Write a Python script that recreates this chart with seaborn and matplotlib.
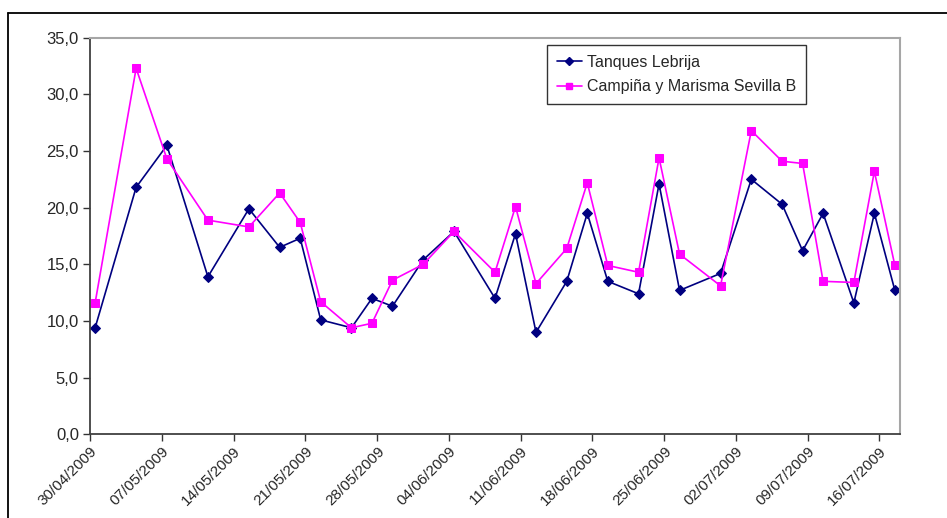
import pandas as pd
import matplotlib
matplotlib.use("Agg")
import matplotlib.pyplot as plt
import matplotlib.dates as mdates
from matplotlib.ticker import FuncFormatter, MultipleLocator
from matplotlib.lines import Line2D
import seaborn as sns

# Sampling dates (day/month/year)
dates = ["30/04/2009", "04/05/2009", "07/05/2009", "11/05/2009", "15/05/2009",
         "18/05/2009", "20/05/2009", "22/05/2009", "25/05/2009", "27/05/2009",
         "29/05/2009", "01/06/2009", "04/06/2009", "08/06/2009", "10/06/2009",
         "12/06/2009", "15/06/2009", "17/06/2009", "19/06/2009", "22/06/2009",
         "24/06/2009", "26/06/2009", "30/06/2009", "03/07/2009", "06/07/2009",
         "08/07/2009", "10/07/2009", "13/07/2009", "15/07/2009", "17/07/2009"]

tanques_lebrija = [9.4, 21.8, 25.5, 13.9, 19.9, 16.5, 17.3, 10.1, 9.4, 12.0,
                   11.3, 15.4, 17.9, 12.0, 17.7, 9.0, 13.5, 19.5, 13.5, 12.4,
                   22.1, 12.7, 14.2, 22.5, 20.3, 16.2, 19.5, 11.6, 19.5, 12.7]

campina_marisma = [11.6, 32.3, 24.3, 18.9, 18.3, 21.3, 18.7, 11.7, 9.4, 9.8,
                   13.6, 15.0, 17.9, 14.3, 20.1, 13.3, 16.4, 22.2, 14.9, 14.3,
                   24.4, 15.9, 13.1, 26.8, 24.1, 23.9, 13.5, 13.4, 23.2, 14.9]

series_names = ["Tanques Lebrija", "Campiña y Marisma Sevilla B"]
tick_dates = ["30/04/2009", "07/05/2009", "14/05/2009", "21/05/2009",
              "28/05/2009", "04/06/2009", "11/06/2009", "18/06/2009",
              "25/06/2009", "02/07/2009", "09/07/2009", "16/07/2009"]

sns.set_style("white")
plt.rcParams['font.family'] = ['Liberation Sans', 'DejaVu Sans']

# Excel-style date axis: each day occupies one slot, point sits in the middle
x = pd.to_datetime(dates, format="%d/%m/%Y") + pd.Timedelta(hours=12)
df = pd.DataFrame({"fecha": x, "lebrija": tanques_lebrija, "campina": campina_marisma})

fig = plt.figure(figsize=(9.47, 5.18), dpi=100)
ax = fig.add_axes([90 / 947, 1 - 434.3 / 518, 810 / 947, 396.6 / 518])

sns.lineplot(data=df, x="fecha", y="lebrija", ax=ax, color="#000080", marker="D",
             markersize=5.5, markeredgecolor="#000080", linewidth=1.2)
sns.lineplot(data=df, x="fecha", y="campina", ax=ax, color="#FF00FF", marker="s",
             markersize=5.5, markeredgecolor="#FF00FF", linewidth=1.2)

ax.set_ylim(0, 35)
ax.yaxis.set_major_locator(MultipleLocator(5))
ax.yaxis.set_major_formatter(FuncFormatter(lambda v, p: f"{v:.1f}".replace(".", ",")))

ticks = pd.to_datetime(tick_dates, format="%d/%m/%Y")
ax.set_xlim(pd.Timestamp("2009-04-30"), pd.Timestamp("2009-07-18"))
ax.set_xticks(ticks)
ax.xaxis.set_major_formatter(mdates.DateFormatter("%d/%m/%Y"))
plt.setp(ax.get_xticklabels(), rotation=45, ha="right", rotation_mode="anchor")

ax.set_xlabel("")
ax.set_ylabel("")
ax.tick_params(axis="y", labelsize=12, length=5, width=1, direction="out",
               color="#333333", pad=3, left=True)
ax.tick_params(axis="x", labelsize=11, length=5, width=1, direction="out",
               color="#333333", pad=2, bottom=True)
for s in ["left", "bottom"]:
    ax.spines[s].set_color("#404040")
    ax.spines[s].set_linewidth(1.3)
for s in ["top", "right"]:
    ax.spines[s].set_color("#a6a6a6")
    ax.spines[s].set_linewidth(1.5)

handles = [Line2D([], [], color="#000080", marker="D", markersize=4, linewidth=1.2),
           Line2D([], [], color="#FF00FF", marker="s", markersize=4.5, linewidth=1.2)]
leg = ax.legend(handles, series_names, loc="upper left",
                bbox_to_anchor=((547 - 90) / 810, (434.3 - 45) / 396.6),
                borderaxespad=0, fontsize=11.5, frameon=True, fancybox=False,
                edgecolor="black", handlelength=1.6, handletextpad=0.3,
                labelspacing=0.6, borderpad=0.6)
leg.get_frame().set_linewidth(1.0)

# outer chart border (left and top only visible)
fig.add_artist(Line2D([8 / 947, 8 / 947], [0, 1 - 12.7 / 518], color="black",
                      linewidth=1.3, transform=fig.transFigure))
fig.add_artist(Line2D([8 / 947, 1], [1 - 12.7 / 518, 1 - 12.7 / 518], color="black",
                      linewidth=1.3, transform=fig.transFigure))

fig.savefig("out.png", dpi=100)
